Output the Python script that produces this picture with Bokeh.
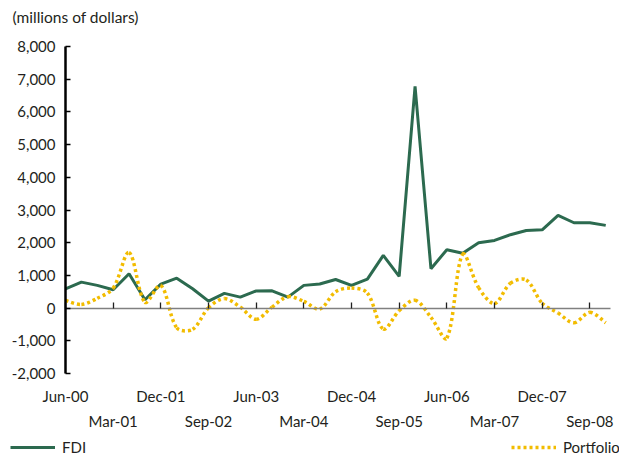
import math
from bokeh.plotting import figure
from bokeh.models import (Range1d, LinearAxis, FixedTicker, NumeralTickFormatter,
                          Legend, LegendItem, ColumnDataSource, Label)
from bokeh.embed import file_html
from bokeh.resources import INLINE

quarters = ["Jun-00", "Sep-00", "Dec-00", "Mar-01", "Jun-01", "Sep-01", "Dec-01",
            "Mar-02", "Jun-02", "Sep-02", "Dec-02", "Mar-03", "Jun-03", "Sep-03",
            "Dec-03", "Mar-04", "Jun-04", "Sep-04", "Dec-04", "Mar-05", "Jun-05",
            "Sep-05", "Dec-05", "Mar-06", "Jun-06", "Sep-06", "Dec-06", "Mar-07",
            "Jun-07", "Sep-07", "Dec-07", "Mar-08", "Jun-08", "Sep-08", "Dec-08"]
fdi = [590, 795, 695, 560, 1050, 255, 735, 915, 590, 215, 450, 335, 525, 530,
       335, 695, 735, 875, 695, 885, 1610, 970, 6780, 1205, 1785, 1680, 2000,
       2070, 2245, 2375, 2395, 2835, 2610, 2610, 2530]
portfolio = [235, 110, 300, 610, 1700, 180, 695, -600, -650, 10, 290, 30, -340,
             30, 350, 205, -30, 500, 612, 460, -640, -80, 240, -280, -920, 1650,
             625, 140, 760, 860, 150, -150, -450, -130, -450]
upper_labels = ["Jun-00", "Dec-01", "Jun-03", "Dec-04", "Jun-06", "Dec-07"]
lower_labels = ["Mar-01", "Sep-02", "Mar-04", "Sep-05", "Mar-07", "Sep-08"]
y_ticks = [-2000, -1000, 0, 1000, 2000, 3000, 4000, 5000, 6000, 7000, 8000]
y_title = "(millions of dollars)"

FONT = "Lato"
TXT = "#231F20"
GREEN = "#2C6A4F"
GOLD = "#F2BC00"
FS = "15px"

W, H = 619, 456
# plot area geometry in pixels (axes box)
AX_LEFT, AX_RIGHT, AX_TOP, AX_BOTTOM = 65, 610, 46, 373
X_SPAN = len(quarters) - 0.7
px_x = (AX_RIGHT - AX_LEFT) / X_SPAN
px_y = (AX_BOTTOM - AX_TOP) / (y_ticks[-1] - y_ticks[0])
x_start = -AX_LEFT / px_x
x_end = (W - AX_LEFT) / px_x
y_end = y_ticks[-1] + AX_TOP / px_y
y_start = y_ticks[0] - (H - AX_BOTTOM) / px_y

idx = list(range(len(quarters)))
up_pos = [quarters.index(l) for l in upper_labels]
lo_pos = [quarters.index(l) for l in lower_labels]

p = figure(width=W, height=H, output_backend="svg", toolbar_location=None,
           title_location=None, x_axis_location=None, y_axis_location=None,
           x_range=Range1d(x_start, x_end), y_range=Range1d(y_start, y_end),
           min_border=0)
p.outline_line_color = None
p.xgrid.visible = False
p.ygrid.visible = False

# title
p.add_layout(Label(x=12, y=H - 16.5, x_units="screen", y_units="screen", text=y_title,
                   text_font=FONT, text_font_size="15.5px", text_color=TXT,
                   text_baseline="middle", text_align="left"))

# y axis
yax = LinearAxis(ticker=FixedTicker(ticks=y_ticks), formatter=NumeralTickFormatter(format="0,0"),
                 fixed_location=0, bounds=(y_ticks[0], y_ticks[-1]))
yax.axis_line_color = "black"
yax.axis_line_width = 2.5
yax.major_tick_line_color = "black"
yax.major_tick_line_width = 1.5
yax.major_tick_in = 5
yax.major_tick_out = 0
yax.minor_tick_line_color = None
yax.major_label_standoff = 10
yax.major_label_text_font = FONT
yax.major_label_text_font_size = FS
yax.major_label_text_color = TXT
p.add_layout(yax, "left")

# zero line axis with tick marks
zax = LinearAxis(ticker=FixedTicker(ticks=sorted(up_pos + lo_pos)), fixed_location=0,
                 bounds=(0, X_SPAN))
zax.axis_line_color = "#808080"
zax.axis_line_width = 1.5
zax.major_tick_line_color = "#202020"
zax.major_tick_line_width = 1.3
zax.major_tick_in = 6
zax.major_tick_out = 0
zax.minor_tick_line_color = None
zax.major_label_text_color = None
zax.major_label_text_font_size = "0px"
p.add_layout(zax, "below")

def label_axis(pos, labels, standoff):
    ax = LinearAxis(ticker=FixedTicker(ticks=pos), fixed_location=y_ticks[0],
                    major_label_overrides={k: v for k, v in zip(pos, labels)})
    ax.axis_line_color = None
    ax.major_tick_line_color = None
    ax.minor_tick_line_color = None
    ax.major_tick_in = 0
    ax.major_tick_out = 0
    ax.major_label_standoff = standoff
    ax.major_label_text_font = FONT
    ax.major_label_text_font_size = FS
    ax.major_label_text_color = TXT
    return ax

p.add_layout(label_axis(up_pos, upper_labels, 13), "below")
p.add_layout(label_axis(lo_pos, lower_labels, 38), "below")

# FDI line
r_fdi = p.line(idx, fdi, line_color=GREEN, line_width=3)

# Portfolio: smoothed curve (cubic Bezier segments through the data points,
# tangents weighted by on-screen segment lengths)
n = len(portfolio)
def dist(i, j):
    return math.hypot((idx[j] - idx[i]) * px_x, (portfolio[j] - portfolio[i]) * px_y)

T = 1.0 / 3.0
cp_in, cp_out = [], []
for i in range(n):
    im1 = max(i - 1, 0)
    ip1 = min(i + 1, n - 1)
    d0, d1 = dist(im1, i), dist(i, ip1)
    tot = (d0 + d1) or 1.0
    if i == 0 or i == n - 1:
        fa = fb = T / 2
    else:
        fa, fb = T * d0 / tot, T * d1 / tot
    tx = idx[ip1] - idx[im1]
    ty = portfolio[ip1] - portfolio[im1]
    cp_in.append((idx[i] - fa * tx, portfolio[i] - fa * ty))
    cp_out.append((idx[i] + fb * tx, portfolio[i] + fb * ty))

src = ColumnDataSource(dict(
    x0=idx[:-1], y0=portfolio[:-1], x1=idx[1:], y1=portfolio[1:],
    cx0=[c[0] for c in cp_out[:-1]], cy0=[c[1] for c in cp_out[:-1]],
    cx1=[c[0] for c in cp_in[1:]], cy1=[c[1] for c in cp_in[1:]]))
r_port = p.bezier(x0="x0", y0="y0", x1="x1", y1="y1", cx0="cx0", cy0="cy0", cx1="cx1", cy1="cy1",
                  source=src, line_color=GOLD, line_width=3.5, line_dash="3 3")

def make_legend(item, loc):
    return Legend(items=[item], location=loc, orientation="horizontal",
                  border_line_color=None, background_fill_alpha=0,
                  padding=0, margin=0, glyph_width=45, glyph_height=16,
                  label_standoff=7, label_text_font=FONT, label_text_font_size=FS,
                  label_text_color=TXT)

p.add_layout(make_legend(LegendItem(label="FDI", renderers=[r_fdi]), (10, 0)))
p.add_layout(make_legend(LegendItem(label="Portfolio", renderers=[r_port]), (511, 0)))

open("out.html", "w").write(file_html(p, INLINE))
